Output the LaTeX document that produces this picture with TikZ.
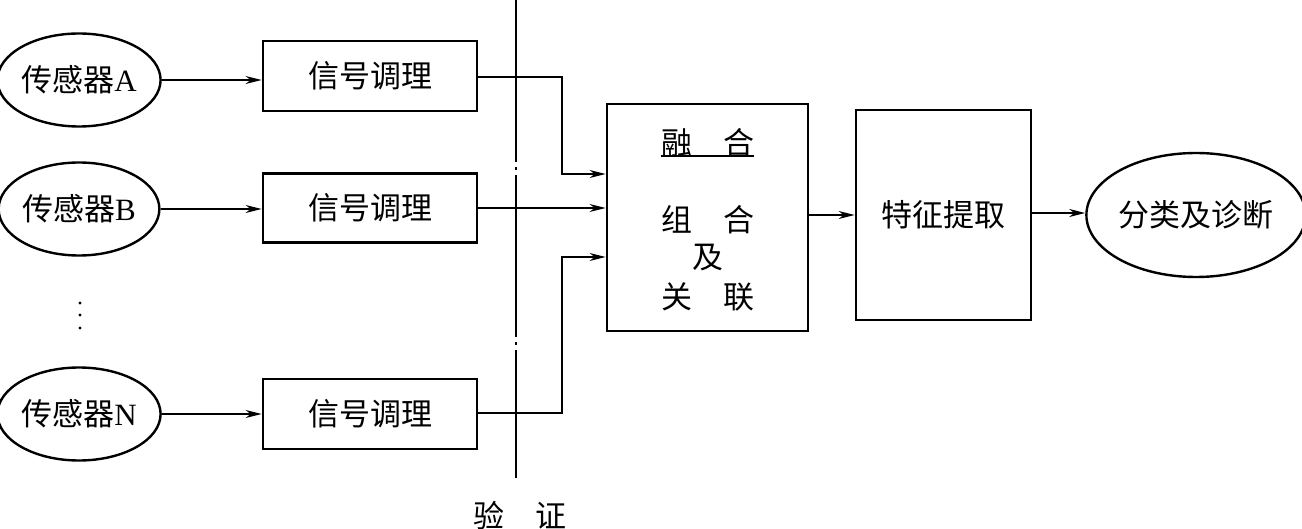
\documentclass[tikz,border=0pt]{standalone}
\usepackage{fontspec}
\setmainfont{Liberation Serif}
\newfontfamily\cjk{Noto Sans CJK SC}
\usetikzlibrary{shapes.geometric,arrows.meta,calc}
\begin{document}
\begin{tikzpicture}[x=1pt,y=-1pt,
  txt/.style={font=\fontsize{31}{36}\selectfont\cjk, inner sep=0pt},
  oval/.style={draw, ellipse, line width=2.4pt, inner sep=0pt, font=\fontsize{31}{36}\selectfont},
  box/.style={draw, rectangle, line width=2.8pt, inner sep=0pt, font=\fontsize{31}{36}\selectfont\cjk},
  conn/.style={line width=1.4pt},
  arr/.style={conn, -{Stealth[length=16pt,width=8pt,inset=5pt]}},
  chain/.style={line width=1.1pt, dash pattern=on 162pt off 5pt on 3pt off 5pt}
]
\useasboundingbox (0,0) rectangle (1302,529);

% sensors
\node[oval, minimum width=154pt, minimum height=93pt] (eA) at (79,80) {{\cjk 传感器}A};
\node[oval, minimum width=154pt, minimum height=93pt] (eB) at (79,209) {{\cjk 传感器}B};
\node[oval, minimum width=154pt, minimum height=93pt] (eN) at (79,414) {{\cjk 传感器}N};

% dots
\fill (80,303) circle (1.7pt);
\fill (80,315) circle (1.7pt);
\fill (80,328) circle (1.7pt);

% conditioning boxes
\node[box, minimum width=214pt, minimum height=70pt] (bA) at (370,76) {信号调理};
\node[box, minimum width=214pt, minimum height=69pt] (bB) at (370,208) {信号调理};
\node[box, minimum width=214pt, minimum height=70pt] (bN) at (370,414) {信号调理};

% fusion box
\node[box, minimum width=201pt, minimum height=227pt] (fu) at (707.5,217.5) {};
\node[txt] (t1) at (707.5,143) {融\hspace{1em}合};
\draw[line width=1.4pt] ([yshift=1.5pt]t1.south west) -- ([yshift=1.5pt]t1.south east);
\node[txt] (t2) at (707.5,220) {组\hspace{1em}合};
\node[txt] (t3) at (707.5,258) {及};
\node[txt] (t4) at (707.5,297) {关\hspace{1em}联};

% feature extraction
\node[box, minimum width=175pt, minimum height=210pt] (fe) at (943.5,215) {特征提取};

% classification
\node[oval, minimum width=207pt, minimum height=124pt, font=\fontsize{31}{36}\selectfont\cjk] (cl) at (1196,215) {分类及诊断};

% verification chain line
\coordinate (vT) at (516,0);
\coordinate (vB) at (516,478);
\draw[chain] (vT) -- (vB);
\node[txt] (vl) at (520,515) {验\hspace{1em}证};

% sensor -> box arrows
\draw[arr] (eA.east) -- (eA.east -| bA.west);
\draw[arr] (eB.east) -- (eB.east -| bB.west);
\draw[arr] (eN.east) -- (eN.east -| bN.west);

% box -> fusion
\coordinate (jA) at (562,77);
\coordinate (kA) at (562,174);
\coordinate (jN) at (562,413);
\coordinate (kN) at (562,257);
\draw[arr] (bA.east |- jA) -- (jA) -- (kA) -- (kA -| fu.west);
\draw[arr] (bB.east) -- (bB.east -| fu.west);
\draw[arr] (bN.east |- jN) -- (jN) -- (kN) -- (kN -| fu.west);

% fusion -> feature -> classification
\draw[arr] (fu.east |- fe.west) -- (fe.west);
\draw[arr] (fe.east |- 0,213) -- (cl.west |- 0,213);
\end{tikzpicture}
\end{document}
